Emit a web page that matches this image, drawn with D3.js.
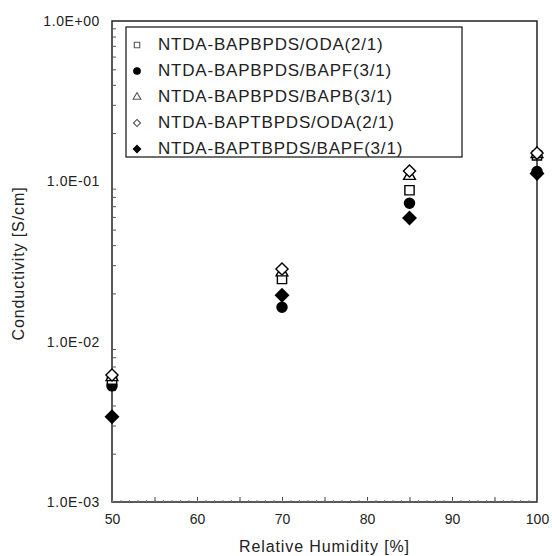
<!DOCTYPE html>
<html>
<head>
<meta charset="utf-8">
<script src="https://cdn.jsdelivr.net/npm/d3@7"></script>
<style>
  body { margin: 0; background: #fff; }
  text { font-family: "Liberation Sans", Arial, sans-serif; fill: #222; }
</style>
</head>
<body>
<div id="chart"></div>
<script>
// data
var humidity = [50, 70, 85, 100];
var seriesNames = [
  "NTDA-BAPBPDS/ODA(2/1)",
  "NTDA-BAPBPDS/BAPF(3/1)",
  "NTDA-BAPBPDS/BAPB(3/1)",
  "NTDA-BAPTBPDS/ODA(2/1)",
  "NTDA-BAPTBPDS/BAPF(3/1)"
];
var bapbOda  = [0.0058, 0.0246, 0.088, 0.145];
var bapbBapf = [0.0053, 0.0164, 0.073, 0.115];
var bapbBapb = [0.0060, 0.0270, 0.108, 0.148];
var baptbOda = [0.0062, 0.0284, 0.116, 0.150];
var baptbBapf = [0.0034, 0.0195, 0.059, 0.112];
var yTicks = [1e-3, 1e-2, 1e-1, 1];
var xTicks = [50, 60, 70, 80, 90, 100];

var margin = {top: 21, right: 15, bottom: 54, left: 112},
  width = 552 - margin.left - margin.right,
  height = 556 - margin.top - margin.bottom;

var svg = d3.select("#chart")
  .append("svg")
    .attr("width", 552)
    .attr("height", 556)
  .append("g")
    .attr("transform", "translate(" + margin.left + "," + margin.top + ")");

var x = d3.scaleLinear().domain([50, 100]).range([0, width]);
var y = d3.scaleLog().domain([1e-3, 1]).range([height, 0]);

// wide diamond (rotated square) like the original markers
var wideDiamond = {
  draw: function(ctx, size) {
    var r = Math.sqrt(size) * 0.75;
    ctx.moveTo(0, -r);
    ctx.lineTo(r, 0);
    ctx.lineTo(0, r);
    ctx.lineTo(-r, 0);
    ctx.closePath();
  }
};

// frame
svg.append("rect")
  .attr("width", width)
  .attr("height", height)
  .attr("fill", "none")
  .attr("stroke", "#222")
  .attr("stroke-width", 1.5);

// x axis: inward ticks every 5, tiny ticks every 1
var xMinor = d3.range(50, 101, 1);
svg.append("g")
  .attr("transform", "translate(0," + height + ")")
  .call(d3.axisBottom(x).tickValues(xMinor.filter(function(d){ return d % 5 == 0 && d > 50 && d < 100; }))
    .tickSize(-5).tickFormat(""))
  .call(function(g){ g.select(".domain").remove(); g.selectAll("line").attr("stroke", "#444"); });
svg.append("g")
  .attr("transform", "translate(0," + height + ")")
  .call(d3.axisBottom(x).tickValues(xMinor).tickSize(-2).tickFormat(""))
  .call(function(g){ g.select(".domain").remove(); g.selectAll("line").attr("stroke", "#777"); });
svg.append("g")
  .attr("transform", "translate(0," + height + ")")
  .call(d3.axisBottom(x).tickValues(xTicks).tickSize(0).tickPadding(12))
  .call(function(g){
    g.select(".domain").remove();
    g.selectAll("text").style("font-size", "14px").attr("fill", "#222");
  });

// y axis: log minor ticks inward
var yMinor = [];
[1e-3, 1e-2, 1e-1].forEach(function(b){
  for (var k = 2; k <= 9; k++) yMinor.push(b * k);
});
svg.append("g")
  .call(d3.axisLeft(y).tickValues(yMinor).tickSize(-4).tickFormat(""))
  .call(function(g){ g.select(".domain").remove(); g.selectAll("line").attr("stroke", "#555"); });
svg.append("g")
  .call(d3.axisLeft(y).tickValues(yTicks).tickSize(0).tickPadding(12)
    .tickFormat(function(d){
      var e = Math.round(Math.log10(d));
      return "1.0E" + (e < 0 ? "-" : "+") + String(Math.abs(e)).padStart(2, "0");
    }))
  .call(function(g){
    g.select(".domain").remove();
    g.selectAll("text").style("font-size", "14px").style("letter-spacing", "0.6px").attr("fill", "#222");
  });

// axis titles
svg.append("text")
  .attr("x", width / 2 - 0)
  .attr("y", height + 50)
  .attr("text-anchor", "middle")
  .style("font-size", "16px")
  .style("letter-spacing", "0.9px")
  .text("Relative Humidity [%]");
svg.append("text")
  .attr("transform", "translate(-88," + (height / 2 + 2) + ") rotate(-90)")
  .attr("text-anchor", "middle")
  .style("font-size", "16px")
  .style("letter-spacing", "0.9px")
  .text("Conductivity [S/cm]");

// series
var styles = [
  {values: bapbOda,   symbol: d3.symbolSquare,   size: 85, fill: "white", leg: 30},
  {values: bapbBapf,  symbol: d3.symbolCircle,   size: 80, fill: "black", leg: 34},
  {values: bapbBapb,  symbol: d3.symbolTriangle, size: 60, fill: "white", leg: 26},
  {values: baptbOda,  symbol: wideDiamond,       size: 65, fill: "white", leg: 22},
  {values: baptbBapf, symbol: wideDiamond,       size: 75, fill: "black", leg: 24}
];

var drawOrder = [1, 4, 0, 2, 3];
drawOrder.forEach(function(i){
  var s = styles[i];
  svg.append("g").selectAll("path")
    .data(humidity.map(function(h, j){ return {h: h, v: s.values[j]}; }))
    .enter()
    .append("path")
      .attr("transform", function(d){ return "translate(" + x(d.h) + "," + y(d.v) + ")"; })
      .attr("d", d3.symbol().type(s.symbol).size(s.size))
      .attr("fill", s.fill)
      .attr("stroke", "black")
      .attr("stroke-width", 1.4);
});

// legend
var legend = svg.append("g").attr("transform", "translate(14,6)");
legend.append("rect")
  .attr("width", 336)
  .attr("height", 130)
  .attr("fill", "white")
  .attr("stroke", "#222")
  .attr("stroke-width", 1.3);
seriesNames.forEach(function(name, i){
  var s = styles[i];
  var row = legend.append("g").attr("transform", "translate(0," + (16 + i * 26) + ")");
  row.append("path")
    .attr("transform", "translate(11,2)")
    .attr("d", d3.symbol().type(s.symbol).size(s.leg))
    .attr("fill", s.fill)
    .attr("stroke", s.fill == "black" ? "black" : "#555")
    .attr("stroke-width", 1.1);
  row.append("text")
    .attr("x", 32)
    .attr("y", 7)
    .style("font-size", "17px")
    .style("letter-spacing", "0.8px")
    .text(name);
});
</script>
</body>
</html>
